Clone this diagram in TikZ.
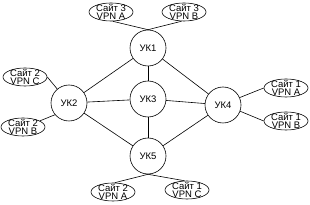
\documentclass[tikz,border=0pt]{standalone}
\usepackage{fontspec}
\setmainfont{Liberation Sans}
\usepackage{tikz}
\usetikzlibrary{shapes.geometric}

\begin{document}
\begin{tikzpicture}[
  x=1pt, y=-1pt,
  hub/.style={draw, circle, line width=0.6pt, minimum size=36pt, inner sep=0pt, font=\fontsize{9.5}{9.5}\selectfont},
  site/.style={draw, ellipse, line width=0.6pt, minimum width=44pt, minimum height=18pt, inner xsep=0pt, inner ysep=-2pt, align=center, font=\fontsize{9.5}{8.5}\selectfont},
  link/.style={line width=0.6pt}
]
\useasboundingbox (0,0) rectangle (310,205);

% core nodes
\node[hub] (uk1) at (148,48) {УК1};
\node[hub] (uk2) at (69,103) {УК2};
\node[hub] (uk3) at (148,99) {УК3};
\node[hub] (uk4) at (223,105) {УК4};
\node[hub] (uk5) at (148,156) {УК5};

% customer sites
\node[site] (s3a) at (111,12) {Сайт 3\\VPN A};
\node[site] (s3b) at (184,12) {Сайт 3\\VPN B};
\node[site] (s2c) at (25,77) {Сайт 2\\VPN C};
\node[site] (s2b) at (23,127) {Сайт 2\\VPN B};
\node[site] (s1a) at (286,88) {Сайт 1\\VPN A};
\node[site] (s1b) at (286,121) {Сайт 1\\VPN B};
\node[site] (s2a) at (113,192) {Сайт 2\\VPN A};
\node[site] (s1c) at (187,190) {Сайт 1\\VPN C};

% backbone
\draw[link] (uk1) -- (uk2);
\draw[link] (uk1) -- (uk3);
\draw[link] (uk1) -- (uk4);
\draw[link] (uk2) -- (uk3);
\draw[link] (uk3) -- (uk4);
\draw[link] (uk2) -- (uk5);
\draw[link] (uk3) -- (uk5);
\draw[link] (uk4) -- (uk5);

% access links
\draw[link] (s3a.-80) -- (uk1.north);
\draw[link] (s3b.-105) -- (uk1.north);
\draw[link] (s2c.east) -- (uk2.130);
\draw[link] (s2b.20) -- (uk2.220);
\draw[link] (uk4.24) -- (s1a.west);
\draw[link] (uk4.-20) -- (s1b.west);
\draw[link] (uk5.south) -- (s2a.80);
\draw[link] (uk5.south) -- (s1c.105);
\end{tikzpicture}
\end{document}
